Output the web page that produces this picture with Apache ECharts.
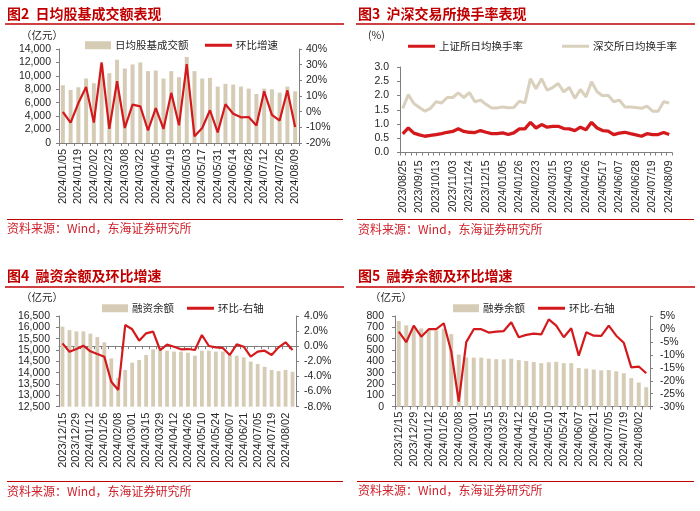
<!DOCTYPE html>
<html><head><meta charset="utf-8">
<script src="https://cdn.jsdelivr.net/npm/echarts@6/dist/echarts.min.js"></script>
<style>html,body{margin:0;padding:0;background:#fff}#c{width:700px;height:511px}</style>
</head><body><div id="c"></div><script>
// ---------- Data ----------
const turnoverDates = ['2024/01/05','2024/01/12','2024/01/19','2024/01/26','2024/02/02','2024/02/08','2024/02/23','2024/03/01','2024/03/08','2024/03/15','2024/03/22','2024/03/29','2024/04/05','2024/04/12','2024/04/19','2024/04/26','2024/05/03','2024/05/10','2024/05/17','2024/05/24','2024/05/31','2024/06/07','2024/06/14','2024/06/21','2024/06/28','2024/07/05','2024/07/12','2024/07/19','2024/07/26','2024/08/02','2024/08/09'];
const turnoverValues = [8600,7900,8300,9600,8900,11700,10400,12400,11100,11700,12000,10700,10800,9600,10700,9800,12800,10700,9600,9700,8400,8800,8700,8400,8100,7300,8100,8000,7500,8400,7700];
const turnoverGrowth = [-0.2,-7,5.5,15.7,-7,31.5,-11,19.4,-10.4,4.5,3.4,-12,2.3,-11,12,-8.7,30.4,-15.7,-10.4,0.9,-13.2,4.7,-1.3,-3.6,-3.4,-8.9,13,-2.1,-5.7,13.6,-9.8];

const rateDates = ['2023/08/25','2023/09/01','2023/09/08','2023/09/15','2023/09/22','2023/09/28','2023/10/13','2023/10/20','2023/10/27','2023/11/03','2023/11/10','2023/11/17','2023/11/24','2023/12/01','2023/12/08','2023/12/15','2023/12/22','2023/12/29','2024/01/05','2024/01/12','2024/01/19','2024/01/26','2024/02/02','2024/02/08','2024/02/23','2024/03/01','2024/03/08','2024/03/15','2024/03/22','2024/03/29','2024/04/03','2024/04/12','2024/04/19','2024/04/26','2024/04/30','2024/05/10','2024/05/17','2024/05/24','2024/05/31','2024/06/07','2024/06/14','2024/06/21','2024/06/28','2024/07/05','2024/07/12','2024/07/19','2024/07/26','2024/08/02','2024/08/09'];
const shRate = [0.65,0.86,0.68,0.62,0.57,0.60,0.63,0.66,0.71,0.74,0.83,0.74,0.71,0.70,0.77,0.71,0.66,0.66,0.69,0.63,0.69,0.83,0.83,1.06,0.86,0.98,0.89,0.92,0.92,0.84,0.83,0.77,0.89,0.80,1.06,0.86,0.77,0.75,0.63,0.68,0.71,0.66,0.62,0.57,0.66,0.63,0.63,0.70,0.63];
const szRate = [1.55,2.03,1.72,1.58,1.45,1.55,1.78,1.74,1.93,1.93,2.09,1.93,2.10,1.78,1.84,1.69,1.56,1.56,1.60,1.57,1.58,1.80,1.74,2.59,2.24,2.59,2.19,2.28,2.42,2.13,2.28,1.90,2.21,1.95,2.48,2.13,1.99,2.01,1.78,1.84,1.60,1.60,1.58,1.55,1.63,1.45,1.45,1.78,1.74];

const marginDates = ['2023/12/15','2023/12/22','2023/12/29','2024/01/05','2024/01/12','2024/01/19','2024/01/26','2024/02/02','2024/02/08','2024/02/23','2024/03/01','2024/03/08','2024/03/15','2024/03/22','2024/03/29','2024/04/03','2024/04/12','2024/04/19','2024/04/26','2024/04/30','2024/05/10','2024/05/17','2024/05/24','2024/05/31','2024/06/07','2024/06/14','2024/06/21','2024/06/28','2024/07/05','2024/07/12','2024/07/19','2024/07/26','2024/08/02','2024/08/09'];
const financingBalance = [16030,15880,15820,15820,15720,15570,15340,14630,13780,14120,14440,14560,14780,15030,15000,14970,14930,14930,14880,14750,14970,14970,14930,14930,14780,14750,14680,14490,14380,14260,14120,14070,14120,14040];
const financingGrowth = [0.38,-0.72,-0.37,0.07,-0.67,-1.03,-1.38,-4.69,-5.79,2.81,2.24,0.74,1.71,1.93,-0.50,0.21,-0.06,-0.41,-0.37,-0.50,1.49,0.03,-0.15,-0.23,-1.16,0.25,-0.06,-1.38,-0.72,-0.59,-1.16,-0.15,0.52,-0.50];
const shortBalance = [756,718,705,690,675,672,688,640,460,434,433,432,423,419,417,423,411,403,394,384,392,396,384,384,342,336,328,321,323,312,295,252,213,172];
const shortGrowth = [-1.0,-5.1,1.3,-3.0,-0.1,-0.1,2.2,-8.7,-28,-5.1,-0.1,-0.1,-1.4,-1.0,-0.8,2.6,-3.2,-2.3,-1.8,-2.1,3.7,1.3,-3.2,0.3,-10.3,-1.3,-2.6,-2.7,1.3,-2.6,-5.3,-14.8,-14.5,-17.1];

// ---------- Styling ----------
const FONT = '"Liberation Sans", Arial, "Noto Sans CJK SC", sans-serif';
const CJK = '"Noto Sans CJK SC", sans-serif';
const RED = '#d3191c', BEIGE = '#d6ccb6', AXIS = '#7f7f7f', TXT = '#262626', TITLE = '#c00000';

function xAx(grid, data, interval, margin, fs) {
  return {type:'category', gridIndex:grid, data:data, boundaryGap:true,
    axisLine:{lineStyle:{color:AXIS}},
    axisTick:{show:true, interval:0, length:3, lineStyle:{color:AXIS}},
    axisLabel:{rotate:90, interval:interval, margin:margin, fontSize:fs, color:TXT, fontFamily:FONT}};
}
function yAx(grid, min, max, interval, pos, fmt, margin) {
  return {type:'value', gridIndex:grid, min:min, max:max, interval:interval, position:pos,
    splitLine:{show:false},
    axisLine:{show:true, lineStyle:{color:AXIS}},
    axisTick:{show:true, length:3, lineStyle:{color:AXIS}},
    axisLabel:{formatter:fmt, margin:margin, fontSize:10.5, color:TXT, fontFamily:FONT}};
}
const thousands = v => v.toLocaleString('en-US');
const pct = v => v + '%';
const pct1 = v => v.toFixed(1) + '%';
const fix1 = v => v.toFixed(1);

function legendItem(name, left, top, isLine) {
  return {data:[{name:name, icon:'rect'}], left:left, top:top,
    itemWidth: isLine ? 27 : 26, itemHeight: isLine ? 3 : 8, itemGap:4,
    textStyle:{fontSize:10.5, color:TXT, fontFamily:CJK, padding:[0,0,0,-1]}};
}
function titleText(x, y, t) {
  return {type:'text', x:x, y:y, style:{text:t, font:'bold 14px "Noto Sans CJK SC"', fill:TITLE, textVerticalAlign:'middle'}};
}
function hline(x1, x2, y, w) {
  return {type:'line', shape:{x1:x1, y1:y, x2:x2, y2:y}, style:{stroke:TITLE, lineWidth:w}};
}
function srcText(x, y) {
  return {type:'text', x:x, y:y, style:{text:'资料来源：Wind，东海证券研究所', font:'12px "Noto Sans CJK SC"', fill:'#d0202a', textVerticalAlign:'middle'}};
}
function unitText(x, y, t) {
  return {type:'text', x:x, y:y, style:{text:t, font:'10.5px "Noto Sans CJK SC"', fill:TXT, textVerticalAlign:'middle'}};
}

const chart = echarts.init(document.getElementById('c'));
chart.setOption({
  animation:false,
  backgroundColor:'#ffffff',
  grid:[
    {left:59, top:49, width:240, height:94},
    {left:400, top:67, width:272, height:85.5},
    {left:59, top:316, width:237, height:90.7},
    {left:395, top:316, width:255, height:90.7}
  ],
  xAxis:[
    xAx(0, turnoverDates, 1, 6, 11),
    xAx(1, rateDates, 2, 8, 10.5),
    xAx(2, marginDates, 1, 6, 11),
    xAx(3, marginDates, 1, 5, 11)
  ],
  yAxis:[
    yAx(0, 0, 14000, 2000, 'left', thousands, 8),
    yAx(0, -20, 40, 10, 'right', pct, 7),
    yAx(1, 0, 3, 0.5, 'left', fix1, 11),
    yAx(2, 12500, 16500, 500, 'left', thousands, 9),
    yAx(2, -8, 4, 2, 'right', pct1, 8),
    yAx(3, 0, 800, 100, 'left', v => String(v), 11),
    yAx(3, -30, 5, 5, 'right', pct, 10)
  ],
  legend:[
    legendItem('日均股基成交额', 80, 35, false),
    legendItem('环比增速', 200, 35, true),
    legendItem('上证所日均换手率', 403, 36, true),
    legendItem('深交所日均换手率', 557, 36, true),
    legendItem('融资余额', 97, 298, false),
    legendItem('环比-右轴', 182, 298, true),
    legendItem('融券余额', 448, 298, false),
    legendItem('环比-右轴', 533, 298, true)
  ],
  series:[
    {name:'日均股基成交额', type:'bar', xAxisIndex:0, yAxisIndex:0, data:turnoverValues, barWidth:4, itemStyle:{color:BEIGE}},
    {name:'环比增速', type:'line', xAxisIndex:0, yAxisIndex:1, data:turnoverGrowth, symbol:'none', lineStyle:{color:RED, width:2.2}, itemStyle:{color:RED}},
    {name:'上证所日均换手率', type:'line', xAxisIndex:1, yAxisIndex:2, data:shRate, symbol:'none', lineStyle:{color:RED, width:3.3}, itemStyle:{color:RED}},
    {name:'深交所日均换手率', type:'line', xAxisIndex:1, yAxisIndex:2, data:szRate, symbol:'none', lineStyle:{color:'#d9d0bd', width:3}, itemStyle:{color:'#d9d0bd'}},
    {name:'融资余额', type:'bar', xAxisIndex:2, yAxisIndex:3, data:financingBalance, barWidth:3.8, itemStyle:{color:BEIGE}},
    {name:'环比-右轴', type:'line', xAxisIndex:2, yAxisIndex:4, data:financingGrowth, symbol:'none', lineStyle:{color:RED, width:2.2}, itemStyle:{color:RED}},
    {name:'融券余额', type:'bar', xAxisIndex:3, yAxisIndex:5, data:shortBalance, barWidth:4, itemStyle:{color:BEIGE}},
    {name:'环比-右轴', type:'line', xAxisIndex:3, yAxisIndex:6, data:shortGrowth, symbol:'none', lineStyle:{color:RED, width:2.2}, itemStyle:{color:RED}}
  ],
  graphic:[
    titleText(7, 14, '图2  日均股基成交额表现'),
    titleText(358, 14, '图3  沪深交易所换手率表现'),
    titleText(7, 276, '图4  融资余额及环比增速'),
    titleText(358, 276, '图5  融券余额及环比增速'),
    hline(5, 344, 24, 1.5), hline(356, 695, 24, 1.5),
    hline(5, 344, 287, 1.5), hline(356, 695, 287, 1.5),
    hline(7, 343, 219.5, 1), hline(357, 694, 219.5, 1),
    hline(7, 343, 481.5, 1), hline(357, 694, 481.5, 1),
    srcText(7, 228), srcText(358, 229), srcText(7, 491), srcText(358, 490),
    unitText(21, 35, '（亿元）'), unitText(368, 35, '(%)'),
    unitText(21, 297, '（亿元）'), unitText(370, 297, '（亿元）')
  ]
});
</script></body></html>
